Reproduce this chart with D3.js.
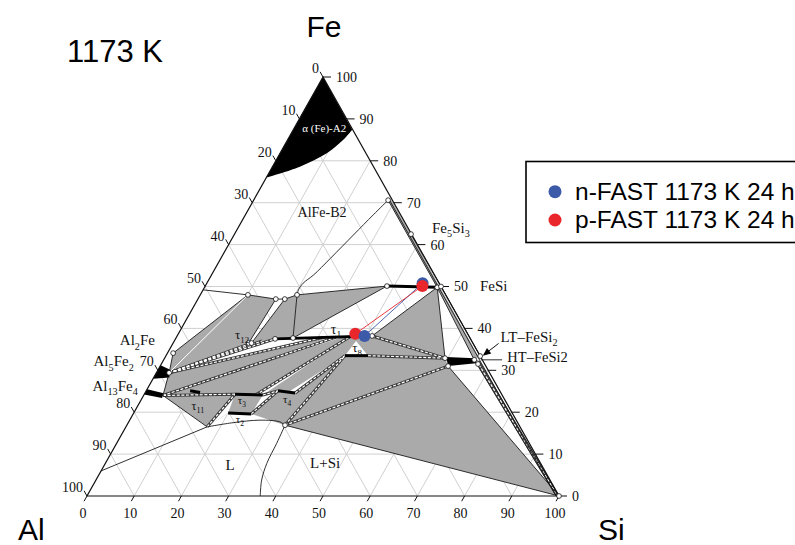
<!DOCTYPE html>
<meta charset="utf-8">
<style>
body { margin: 0; background: #fff; }
.grid { stroke: #d0d0d0; stroke-width: 1; fill: none; }
.edge { stroke: #111; stroke-width: 1.2; fill: none; }
.bnd { stroke: #1a1a1a; stroke-width: 0.9; fill: none; }
.sp { stroke: #000; stroke-width: 3; fill: none; }
.tie0 { stroke: #3a3a3a; stroke-width: 3; fill: none; }
.tie1 { stroke: #fff; stroke-width: 1.2; fill: none; stroke-dasharray: 3 1.6; }
.tick { stroke: #111; stroke-width: 1; }
.num { font: 14px "Liberation Serif", "Times New Roman", serif; fill: #111; }
.phase { font: 14px "Liberation Serif", "Times New Roman", serif; fill: #111; }
.corner { font: 30px "Liberation Sans", Arial, sans-serif; fill: #000; }
.leg { font: 24.5px "Liberation Sans", Arial, sans-serif; fill: #000; }
.node { fill: #fff; stroke: #111; stroke-width: 0.8; }
</style>
<body>
<script src="https://d3js.org/d3.v7.min.js"></script>
<script>
// every composition is at.% written as [Si, Fe]  (Al = 100 - Si - Fe)

// measured samples
var nFast = [[45.7, 50.8], [39.7, 38.2]];
var pFast = [[46.0, 50.1], [37.5, 38.7]];
var seriesNames = ["n-FAST 1173 K 24 h", "p-FAST 1173 K 24 h"];
var seriesColors = ["#3d5aa9", "#e8262b"];

var tickVals = d3.range(0, 101, 10);

// invariant / phase points
var b0 = [0, 49.2], b1 = [10.1, 48], b2 = [16.5, 47], b3 = [18.4, 47], b4 = [20.5, 48], b5 = [38.5, 50.1];
var b2Top = [28.5, 70.6], fe5si3 = [37.4, 62.5], fesiIn = [49.3, 49.8], fesiEdge = [50, 50];
var al2fe = [1.2, 34.1], al5fe2 = [2.7, 29.4], al13fe4 = [4.1, 24.0];
var t12a = [16.0, 36.5], t12b = [16.6, 36.5];
var t1a = [21.1, 37.5], t1b = [24.8, 37.7], t1c = [30.9, 37.8], t1d = [41.3, 38.2];
var t8l = [37.9, 33.5], t8r = [42.8, 33.5], t8t = [38.5, 37.0];
var t3l = [19.2, 24.3], t3r = [25.2, 24.1], t4l = [27.9, 25.1], t4r = [31.8, 24.6];
var t11l = [9.3, 25.1], t11r = [11.6, 24.7], t2l = [20.0, 19.8], t2r = [25.0, 19.6];
var lKink = [17.2, 16.5], lJ = [33.5, 16.9];
var htTop = [59.4, 32.9], htBot = [61.0, 31.0], htR = [65.8, 32.5], htR2 = [67.1, 31.5], ltFeSi2 = [66.6, 33.4];
var siCorner = [100, 0], feCorner = [0, 100];

// boundary curves
var a2Bound = [[0, 76], [5.8, 78.6], [9.9, 81.8], [11.8, 85], [12.5, 87.4]];
var b2Lower = [b0, b1, b2, b3, b4, b5];
var b2Upper = [b4, [20.2, 49.2], [20.4, 50.8], [21.6, 52.7], [23.2, 56.7], [25.3, 62.3], [27.1, 67.1], b2Top];
var liqStraight = [[0, 6], lKink];
var liqArc = [lKink, [22.2, 17.5], [27.6, 18.1], [32.0, 17.7], lJ];
var siLiq = [lJ, [33.9, 12.6], [34.2, 7.8], [35.1, 3.8], [36.7, 0]];

// three-phase fields (grey)
var greyFields = [
  [al5fe2, t1a, t1d, htTop, htBot, lJ, t2r, t2l, lKink, al13fe4],
  [lJ, htBot, siCorner],
  [t1d, fesiIn, htTop],
  [b1, b2, t12a, al5fe2, al2fe],
  [b3, b4, t1b, t1a, t12b],
  [b4, b5, t1b],
  [al5fe2, t12a, t12b, t1a],
  [b2Top, fesiIn, [49.8, 49.9], fe5si3, [29.3, 70.5]],
  [fesiIn, htR, [66.3, 33.3], [49.7, 50.0]],
  [[65.9, 32.4], [67.0, 32.2], siCorner, [99.4, 0]]
];
// two-phase gaps inside the grey (white)
var whiteFields = [
  [t8l, t8r, t8t],
  [al5fe2, t1a, t1c],
  [al13fe4, [32.5, 37.9], [35.1, 37.9]],
  [[23.7, 24.15], t3r, [36.7, 38.0]],
  [[30.3, 24.8], t4r, t8l],
  [t2r, t3r, t4l],
  [lKink, t3l, t2l]
];
// single-phase areas (black)
var blackFields = [
  [[0, 31.2], [2.4, 30.2], [3.3, 28.3], [0, 28.0]],
  [[0, 25.5], [4.0, 24.5], [4.2, 23.4], [0, 24.2]],
  [[59.5, 33.2], [65.7, 32.9], [66.6, 31.7], [61.0, 31.0]]
];
// tie lines drawn as narrow two-phase bands
var tieLines = [
  [al5fe2, t12b], [al5fe2, [18.6, 37.0]], [al5fe2, t1a], [al5fe2, t1c],
  [al13fe4, [33.8, 37.9]], [al13fe4, t3l], [t3r, t4l],
  [[23.7, 24.15], [36.7, 38.0]],
  [t4r, t8l], [lJ, t8l], [lJ, htBot], [t8r, htTop], [t1d, htTop],
  [t2r, t4l], [lKink, t3l],
  [[66.4, 32.3], [99.7, 0]]
];
// thin phase boundaries
var boundLines = [
  [b2Top, fesiIn], [fe5si3, fesiEdge], [b1, al2fe], [b2, t12a], [b3, t12b], [b4, t1b], [b5, t1b],
  [t1d, fesiIn], [fesiIn, htTop], [fesiIn, htR], [fesiEdge, ltFeSi2],
  [al2fe, al5fe2], [al5fe2, al13fe4], [al13fe4, lKink],
  [lJ, siCorner], [htBot, siCorner], [[65.9, 32.4], [99.4, 0]], [[67.0, 32.2], siCorner],
  [[29.0, 70.4], [99.4, 0]]
];
// homogeneity ranges of line compounds
var phaseBars = [[b5, fesiIn], [t1a, t1d], [t11l, t11r], [t3l, t3r], [t4l, t4r], [t2l, t2r], [t8l, t8r]];
var nodes = [b1, b2, b3, b4, b5, b2Top, fe5si3, fesiIn, fesiEdge, al2fe, al5fe2, t12a, t12b,
  t1a, t1b, t1d, htTop, htBot, htR, htR2, ltFeSi2, lJ, siCorner];

// phase labels: [parts, composition anchor, anchor, size]
var phaseLabels = [
  [[["AlFe-B2", 0]], [16.5, 66.6], "middle", 14],
  [[["Fe", 0], ["5", 1], ["Si", 0], ["3", 1]], [41.7, 62.8], "start", 15],
  [[["FeSi", 0]], [58.8, 48.9], "start", 15],
  [[["LT–FeSi", 0], ["2", 1]], [69.2, 36.8], "start", 15],
  [[["HT–FeSi", 0], ["2", 0]], [73.0, 32.1], "start", 14.5],
  [[["Al", 0], ["2", 1], ["Fe", 0]], [-3.6, 36.0], "end", 15],
  [[["Al", 0], ["5", 1], ["Fe", 0], ["2", 1]], [-5.6, 31.0], "end", 15],
  [[["Al", 0], ["13", 1], ["Fe", 0], ["4", 1]], [-1.8, 25.1], "end", 15],
  [[["τ", 0], ["1", 1]], [33.4, 38.7], "middle", 14],
  [[["τ", 0], ["8", 1]], [40.0, 34.4], "middle", 13],
  [[["τ", 0], ["12", 1]], [14.1, 37.5], "middle", 13],
  [[["τ", 0], ["11", 1]], [13.2, 20.6], "middle", 12],
  [[["τ", 0], ["3", 1]], [21.8, 22.0], "middle", 11],
  [[["τ", 0], ["4", 1]], [31.3, 22.2], "middle", 11],
  [[["τ", 0], ["2", 1]], [23.7, 17.4], "middle", 11],
  [[["L", 0]], [27.2, 6.2], "middle", 15],
  [[["L+Si", 0]], [47.1, 6.7], "middle", 15]
];

var svg = d3.select("body").append("svg").attr("width", 795).attr("height", 545);

// ternary projection built from two linear scales
var xS = d3.scaleLinear().domain([0, 100]).range([87, 559]);
var yS = d3.scaleLinear().domain([0, 100]).range([496, 77]);
function P(c) { return [xS(c[0] + c[1] / 2), yS(c[1])]; }
var line = d3.line();
var smooth = d3.line().curve(d3.curveCatmullRom.alpha(0.5));
function lp(cs) { return line(cs.map(P)); }
function poly(cs) { return line(cs.map(P)) + "Z"; }

// grid
var gridSegs = [];
d3.range(10, 100, 10).forEach(function(v) {
  gridSegs.push([[0, v], [100 - v, v]]);
  gridSegs.push([[v, 0], [v, 100 - v]]);
  gridSegs.push([[0, 100 - v], [100 - v, 0]]);
});
svg.append("g").selectAll("path").data(gridSegs).enter().append("path")
  .attr("class", "grid").attr("d", lp);

// fields
svg.append("g").selectAll("path").data(greyFields).enter().append("path")
  .attr("d", poly).attr("fill", "#aaa");
svg.append("g").selectAll("path").data(whiteFields).enter().append("path")
  .attr("d", poly).attr("fill", "#fff");

// alpha(Fe) region
svg.append("path")
  .attr("d", smooth(a2Bound.map(P)) + "L" + P(feCorner).join(",") + "Z")
  .attr("fill", "#000");
svg.append("g").selectAll("path").data(blackFields).enter().append("path")
  .attr("d", poly).attr("fill", "#000");

// tie-line bands
var gTie = svg.append("g");
gTie.selectAll(".tie0").data(tieLines).enter().append("path").attr("class", "tie0").attr("d", lp);
gTie.selectAll(".tie1").data(tieLines).enter().append("path").attr("class", "tie1").attr("d", lp);

// boundaries
var gB = svg.append("g");
gB.selectAll("path.s").data(boundLines).enter().append("path").attr("class", "bnd").attr("d", lp);
gB.append("path").attr("class", "bnd").attr("d", lp(b2Lower));
gB.append("path").attr("class", "bnd").attr("d", smooth(b2Upper.map(P)));
gB.append("path").attr("class", "bnd").attr("d", lp(liqStraight));
gB.append("path").attr("class", "bnd").attr("d", smooth(liqArc.map(P)));
gB.append("path").attr("class", "bnd").attr("d", smooth(siLiq.map(P)));
gB.append("path").attr("stroke", "#fff").attr("stroke-width", 1).attr("d", lp([b1, al5fe2]));

svg.append("g").selectAll("path").data(phaseBars).enter().append("path")
  .attr("class", "sp").attr("d", lp);

// triangle frame
svg.append("path").attr("class", "edge").attr("d", poly([[0, 0], siCorner, feCorner]));

// axes: ticks follow the iso-lines out of the triangle
var gAx = svg.append("g");
var ul = [-0.49, -0.87], dl = [-0.49, 0.87];
tickVals.forEach(function(v) {
  var p = P([0, 100 - v]);
  gAx.append("line").attr("class", "tick").attr("x1", p[0]).attr("y1", p[1])
    .attr("x2", p[0] + ul[0] * 6).attr("y2", p[1] + ul[1] * 6);
  gAx.append("text").attr("class", "num").attr("x", p[0] - 4).attr("y", p[1] - 4)
    .attr("text-anchor", "end").text(v);

  var q = P([100 - v, v]);
  gAx.append("line").attr("class", "tick").attr("x1", q[0]).attr("y1", q[1])
    .attr("x2", q[0] + 8).attr("y2", q[1]);
  gAx.append("text").attr("class", "num").attr("x", q[0] + 13).attr("y", q[1]).attr("dy", "0.35em")
    .text(v);

  var r = P([v, 0]);
  gAx.append("line").attr("class", "tick").attr("x1", r[0]).attr("y1", r[1])
    .attr("x2", r[0] + dl[0] * 6).attr("y2", r[1] + dl[1] * 6);
  gAx.append("text").attr("class", "num").attr("x", r[0] - 4).attr("y", r[1] + 22)
    .attr("text-anchor", "middle").text(v);
});

// LT-FeSi2 arrow and HT-FeSi2 leader
var la = P([69.0, 36.4]), lb = P([67.1, 33.5]);
var ldx = lb[0] - la[0], ldy = lb[1] - la[1], lln = Math.hypot(ldx, ldy);
var ux = ldx / lln, uy = ldy / lln;
svg.append("line").attr("class", "tick").attr("x1", la[0]).attr("y1", la[1])
  .attr("x2", lb[0] - ux * 4).attr("y2", lb[1] - uy * 4);
svg.append("path").attr("fill", "#000").attr("d", line([
  lb, [lb[0] - ux * 8 - uy * 3.5, lb[1] - uy * 8 + ux * 3.5], [lb[0] - ux * 8 + uy * 3.5, lb[1] - uy * 8 - ux * 3.5]
]) + "Z");
svg.append("path").attr("class", "bnd").attr("d", lp([[67.2, 32.5], [71.7, 32.5]]));

// invariant points
svg.append("g").selectAll("circle").data(nodes).enter().append("circle")
  .attr("class", "node").attr("r", 2.4)
  .attr("cx", function(d) { return P(d)[0]; }).attr("cy", function(d) { return P(d)[1]; });

// phase labels
function rich(g, parts, x, y, anchor, size, fill) {
  var t = g.append("text").attr("x", x).attr("y", y).attr("text-anchor", anchor)
    .attr("class", "phase").style("font-size", size + "px").attr("fill", fill || "#111");
  var shift = 0;
  parts.forEach(function(p) {
    var target = p[1] ? size * 0.3 : 0;
    var ts = t.append("tspan").attr("dy", target - shift).text(p[0]);
    if (p[1]) ts.style("font-size", (size * 0.68) + "px");
    shift = target;
  });
  return t;
}
var gL = svg.append("g");
phaseLabels.forEach(function(l) {
  var p = P(l[1]);
  rich(gL, l[0], p[0], p[1], l[2], l[3]);
});
var pa = P([6.8, 86.9]);
rich(gL, [["α (Fe)-A2", 0]], pa[0], pa[1], "middle", 11, "#fff").style("fill", "#fff");

// samples: tie lines + dots
var samples = [nFast, pFast];
svg.append("g").selectAll("path").data(samples).enter().append("path")
  .attr("d", lp).attr("fill", "none").attr("stroke-width", 0.9)
  .attr("stroke", function(d, i) { return seriesColors[i]; });
var dots = [
  { c: nFast[0], s: 0 }, { c: pFast[0], s: 1 },
  { c: pFast[1], s: 1 }, { c: nFast[1], s: 0 }
];
svg.append("g").selectAll("circle").data(dots).enter().append("circle")
  .attr("r", 6)
  .attr("cx", function(d) { return P(d.c)[0]; }).attr("cy", function(d) { return P(d.c)[1]; })
  .attr("fill", function(d) { return seriesColors[d.s]; });

// titles
svg.append("text").attr("class", "corner").attr("x", 324).attr("y", 37).attr("text-anchor", "middle").text("Fe");
svg.append("text").attr("class", "corner").attr("x", 18).attr("y", 540).text("Al");
svg.append("text").attr("class", "corner").attr("x", 598).attr("y", 540).text("Si");
svg.append("text").attr("class", "corner").attr("x", 67).attr("y", 62).style("font-size", "31px").text("1173 K");

// legend
var lg = svg.append("g");
lg.append("rect").attr("x", 526).attr("y", 161.5).attr("width", 300).attr("height", 81)
  .attr("fill", "#fff").attr("stroke", "#000").attr("stroke-width", 1.6);
seriesNames.forEach(function(n, i) {
  lg.append("circle").attr("cx", 555).attr("cy", 191.7 + i * 28.3).attr("r", 6.5).attr("fill", seriesColors[i]);
  lg.append("text").attr("class", "leg").attr("x", 575).attr("y", 199.5 + i * 28.3).text(n);
});
</script>
</body>
